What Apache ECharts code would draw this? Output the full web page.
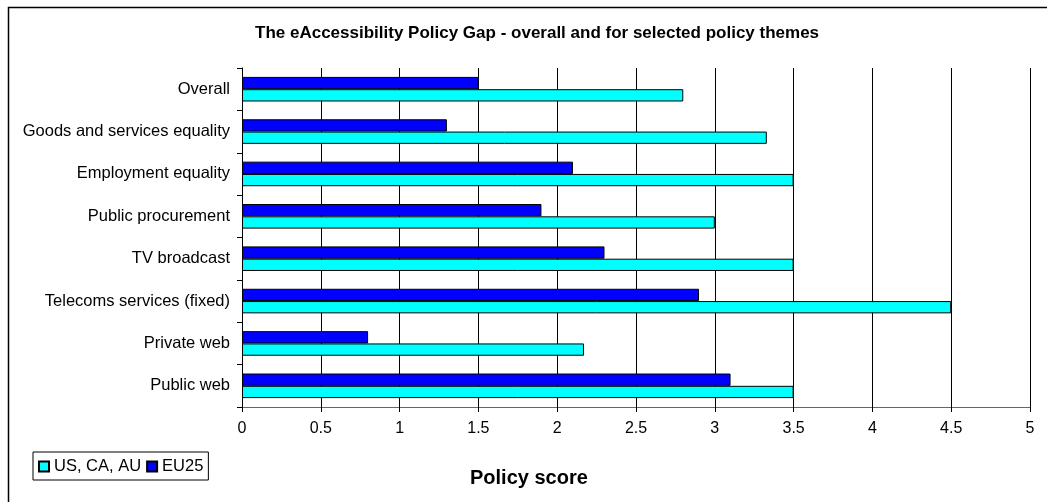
<!DOCTYPE html>
<html>
<head>
<meta charset="utf-8">
<script src="https://cdn.jsdelivr.net/npm/echarts@6/dist/echarts.min.js"></script>
<style>
  html, body { margin: 0; padding: 0; background: #fff; }
  #chart { width: 1047px; height: 502px; }
</style>
</head>
<body>
<div id="chart"></div>
<script>
// Policy themes, listed top to bottom
const categories = [
  'Overall',
  'Goods and services equality',
  'Employment equality',
  'Public procurement',
  'TV broadcast',
  'Telecoms services (fixed)',
  'Private web',
  'Public web'
];
// Policy scores per region group
const usCaAu = [2.8, 3.33, 3.5, 3.0, 3.5, 4.5, 2.17, 3.5];
const eu25 = [1.5, 1.3, 2.1, 1.9, 2.3, 2.9, 0.8, 3.1];
const xTicks = [0, 0.5, 1, 1.5, 2, 2.5, 3, 3.5, 4, 4.5, 5];

const FONT = '"Liberation Sans", Arial, sans-serif';
const chart = echarts.init(document.getElementById('chart'));

chart.setOption({
  animation: false,
  textStyle: { fontFamily: FONT },
  title: {
    text: 'The eAccessibility Policy Gap - overall and for selected policy themes',
    left: 250,
    top: 20,
    textStyle: { fontFamily: FONT, fontSize: 17, fontWeight: 'bold', color: '#000' }
  },
  legend: {
    data: ['US, CA, AU', 'EU25'],
    left: 33,
    top: 452,
    orient: 'horizontal',
    icon: 'rect',
    itemWidth: 10,
    itemHeight: 10,
    itemGap: 5,
    padding: [6, 5, 5, 5],
    borderColor: '#000',
    borderWidth: 1,
    backgroundColor: '#fff',
    textStyle: { fontFamily: FONT, fontSize: 16.5, color: '#000', padding: [0, 0, 0, 0] }
  },
  grid: { left: 242, right: 17, top: 68, bottom: 95, containLabel: false },
  xAxis: {
    type: 'value',
    min: 0,
    max: 5,
    interval: 0.5,
    axisLine: { show: true, lineStyle: { color: '#666', width: 1 } },
    axisTick: { show: true, length: 5, lineStyle: { color: '#000' } },
    axisLabel: {
      fontFamily: FONT, fontSize: 16, color: '#000', margin: 14,
      formatter: v => xTicks.includes(v) ? String(v) : ''
    },
    splitLine: { show: true, lineStyle: { color: '#000', width: 1 } }
  },
  yAxis: {
    type: 'category',
    data: categories,
    inverse: true,
    axisLine: { show: true, lineStyle: { color: '#000', width: 1 } },
    axisTick: { show: true, length: 5, inside: false, lineStyle: { color: '#000' } },
    axisLabel: { fontFamily: FONT, fontSize: 16.5, color: '#000', margin: 12 },
    splitLine: { show: false }
  },
  graphic: [
    {
      type: 'rect',
      left: 6, top: 5,
      shape: { width: 1100, height: 600 },
      style: { fill: 'none', stroke: '#000', lineWidth: 1.5 },
      silent: true,
      z: -10
    },
    {
      type: 'text',
      left: 470, top: 468,
      style: { text: 'Policy score', font: 'bold 20px ' + FONT, fill: '#000' }
    }
  ],
  series: [
    {
      name: 'EU25',
      type: 'bar',
      data: eu25,
      barGap: '0%',
      barCategoryGap: '42%',
      itemStyle: { color: '#0000FF', borderColor: '#000', borderWidth: 1 }
    },
    {
      name: 'US, CA, AU',
      type: 'bar',
      data: usCaAu,
      barGap: '0%',
      barCategoryGap: '42%',
      itemStyle: { color: '#00FFFF', borderColor: '#000', borderWidth: 1 }
    }
  ]
});
</script>
</body>
</html>
